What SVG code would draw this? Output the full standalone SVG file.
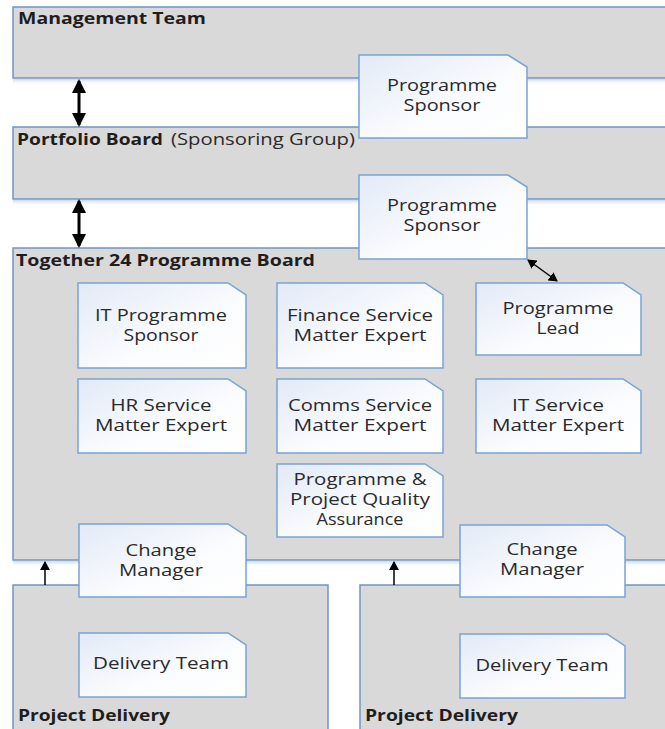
<svg xmlns="http://www.w3.org/2000/svg" width="665" height="729" viewBox="0 0 665 729">
<style>
.big{fill:#d9d9d9;stroke:#6f95c3;stroke-width:1.5}
.card{fill:url(#cg);stroke:#7aa3d4;stroke-width:1.5}
.t{font-family:"Open Sans","Liberation Sans",sans-serif;font-size:16px;fill:#2a2a2a;text-anchor:middle}
.h{font-family:"Open Sans","Liberation Sans",sans-serif;font-size:16.5px;font-weight:bold;fill:#1e1e1e}
.hr{font-family:"Open Sans","Liberation Sans",sans-serif;font-size:16.5px;fill:#2a2a2a}
.shadow{fill:url(#sg)}
.ab{stroke:#000;stroke-width:3;fill:none}
.as{stroke:#000;stroke-width:1.5;fill:none}
</style>
<defs>
<linearGradient id="cg" x1="0" y1="0" x2="1" y2="1">
<stop offset="0" stop-color="#e2eaf7"/>
<stop offset="0.6" stop-color="#fbfcfe"/>
<stop offset="1" stop-color="#ffffff"/>
</linearGradient>
<linearGradient id="sg" x1="0" y1="0" x2="0" y2="1">
<stop offset="0" stop-color="#c9d8ee"/>
<stop offset="1" stop-color="#ffffff" stop-opacity="0"/>
</linearGradient>
<marker id="mb" markerUnits="userSpaceOnUse" markerWidth="14" markerHeight="14" viewBox="0 0 14 14" refX="12" refY="7" orient="auto-start-reverse">
<path d="M0,0 L14,7 L0,14 z" fill="#000"/>
</marker>
<marker id="ms" markerUnits="userSpaceOnUse" markerWidth="9" markerHeight="10" viewBox="0 0 9 10" refX="8" refY="5" orient="auto-start-reverse">
<path d="M0,0 L9,5 L0,10 z" fill="#000"/>
</marker>
</defs>
<rect width="665" height="729" fill="#ffffff"/>

<g id="management-team">
<rect class="big" x="13" y="7" width="670" height="71"/>
<rect class="shadow" x="13" y="79" width="670" height="6"/>
<text class="h" x="18" y="24" textLength="188" lengthAdjust="spacingAndGlyphs">Management Team</text>
</g>

<g id="portfolio-board">
<rect class="big" x="13" y="127" width="670" height="72"/>
<rect class="shadow" x="13" y="200" width="670" height="6"/>
<text class="h" x="17" y="145" textLength="146" lengthAdjust="spacingAndGlyphs">Portfolio Board</text>
<text class="hr" x="171" y="145" textLength="184" lengthAdjust="spacingAndGlyphs">(Sponsoring Group)</text>
</g>

<g id="programme-board">
<rect class="big" x="13" y="248" width="670" height="312"/>
<rect class="shadow" x="13" y="561" width="670" height="6"/>
<text class="h" x="16" y="266" textLength="299" lengthAdjust="spacingAndGlyphs">Together 24 Programme Board</text>
</g>

<g id="project-delivery-1">
<rect class="big" x="13" y="585" width="315" height="160"/>
<text class="h" x="18" y="721" textLength="152" lengthAdjust="spacingAndGlyphs">Project Delivery</text>
</g>

<g id="project-delivery-2">
<rect class="big" x="360" y="585" width="320" height="160"/>
<text class="h" x="365" y="721" textLength="153" lengthAdjust="spacingAndGlyphs">Project Delivery</text>
</g>

<g id="programme-sponsor-1">
<path class="card" d="M359,55 H508 L527,67 V138 H359 Z"/>
<text class="t" x="442" y="91" textLength="110" lengthAdjust="spacingAndGlyphs">Programme</text>
<text class="t" x="442" y="111" textLength="77" lengthAdjust="spacingAndGlyphs">Sponsor</text>
</g>

<g id="programme-sponsor-2">
<path class="card" d="M359,175 H508 L527,187 V259 H359 Z"/>
<text class="t" x="442" y="211" textLength="110" lengthAdjust="spacingAndGlyphs">Programme</text>
<text class="t" x="442" y="231" textLength="77" lengthAdjust="spacingAndGlyphs">Sponsor</text>
</g>

<g id="it-programme-sponsor">
<path class="card" d="M78,283 H228 L246,295 V368 H78 Z"/>
<text class="t" x="161" y="321" textLength="132" lengthAdjust="spacingAndGlyphs">IT Programme</text>
<text class="t" x="161" y="341" textLength="75" lengthAdjust="spacingAndGlyphs">Sponsor</text>
</g>

<g id="finance-sme">
<path class="card" d="M277,283 H425 L443,295 V368 H277 Z"/>
<text class="t" x="360" y="321" textLength="146" lengthAdjust="spacingAndGlyphs">Finance Service</text>
<text class="t" x="360" y="341" textLength="133" lengthAdjust="spacingAndGlyphs">Matter Expert</text>
</g>

<g id="programme-lead">
<path class="card" d="M476,283 H623 L641,295 V355 H476 Z"/>
<text class="t" x="558" y="314" textLength="111" lengthAdjust="spacingAndGlyphs">Programme</text>
<text class="t" x="558" y="334" textLength="43" lengthAdjust="spacingAndGlyphs">Lead</text>
</g>

<g id="hr-sme">
<path class="card" d="M78,379 H228 L246,391 V453 H78 Z"/>
<text class="t" x="161" y="411" textLength="101" lengthAdjust="spacingAndGlyphs">HR Service</text>
<text class="t" x="161" y="431" textLength="132" lengthAdjust="spacingAndGlyphs">Matter Expert</text>
</g>

<g id="comms-sme">
<path class="card" d="M277,379 H425 L443,391 V453 H277 Z"/>
<text class="t" x="360" y="411" textLength="144" lengthAdjust="spacingAndGlyphs">Comms Service</text>
<text class="t" x="360" y="431" textLength="133" lengthAdjust="spacingAndGlyphs">Matter Expert</text>
</g>

<g id="it-sme">
<path class="card" d="M476,379 H623 L641,391 V453 H476 Z"/>
<text class="t" x="558" y="411" textLength="92" lengthAdjust="spacingAndGlyphs">IT Service</text>
<text class="t" x="558" y="431" textLength="132" lengthAdjust="spacingAndGlyphs">Matter Expert</text>
</g>

<g id="quality-assurance">
<path class="card" d="M277,464 H425 L443,476 V537 H277 Z"/>
<text class="t" x="360" y="485" textLength="133" lengthAdjust="spacingAndGlyphs">Programme &amp;</text>
<text class="t" x="360" y="505" textLength="140" lengthAdjust="spacingAndGlyphs">Project Quality</text>
<text class="t" x="360" y="525" textLength="87" lengthAdjust="spacingAndGlyphs">Assurance</text>
</g>

<g id="change-manager-1">
<path class="card" d="M79,524 H228 L246,536 V597 H79 Z"/>
<text class="t" x="161" y="556" textLength="71" lengthAdjust="spacingAndGlyphs">Change</text>
<text class="t" x="161" y="576" textLength="84" lengthAdjust="spacingAndGlyphs">Manager</text>
</g>

<g id="change-manager-2">
<path class="card" d="M460,525 H607 L625,537 V597 H460 Z"/>
<text class="t" x="542" y="555" textLength="71" lengthAdjust="spacingAndGlyphs">Change</text>
<text class="t" x="542" y="575" textLength="84" lengthAdjust="spacingAndGlyphs">Manager</text>
</g>

<g id="delivery-team-1">
<path class="card" d="M79,633 H228 L246,645 V697 H79 Z"/>
<text class="t" x="161" y="669" textLength="136" lengthAdjust="spacingAndGlyphs">Delivery Team</text>
</g>

<g id="delivery-team-2">
<path class="card" d="M460,634 H607 L625,646 V698 H460 Z"/>
<text class="t" x="542" y="671" textLength="133" lengthAdjust="spacingAndGlyphs">Delivery Team</text>
</g>

<g id="connectors">
<line class="ab" x1="79" y1="81" x2="79" y2="125" marker-start="url(#mb)" marker-end="url(#mb)"/>
<line class="ab" x1="79" y1="201" x2="79" y2="246" marker-start="url(#mb)" marker-end="url(#mb)"/>
<line class="as" x1="528" y1="260" x2="557" y2="281" marker-start="url(#ms)" marker-end="url(#ms)"/>
<line class="as" x1="45" y1="585" x2="45" y2="562" marker-end="url(#ms)"/>
<line class="as" x1="394" y1="585" x2="394" y2="562" marker-end="url(#ms)"/>
</g>
</svg>
